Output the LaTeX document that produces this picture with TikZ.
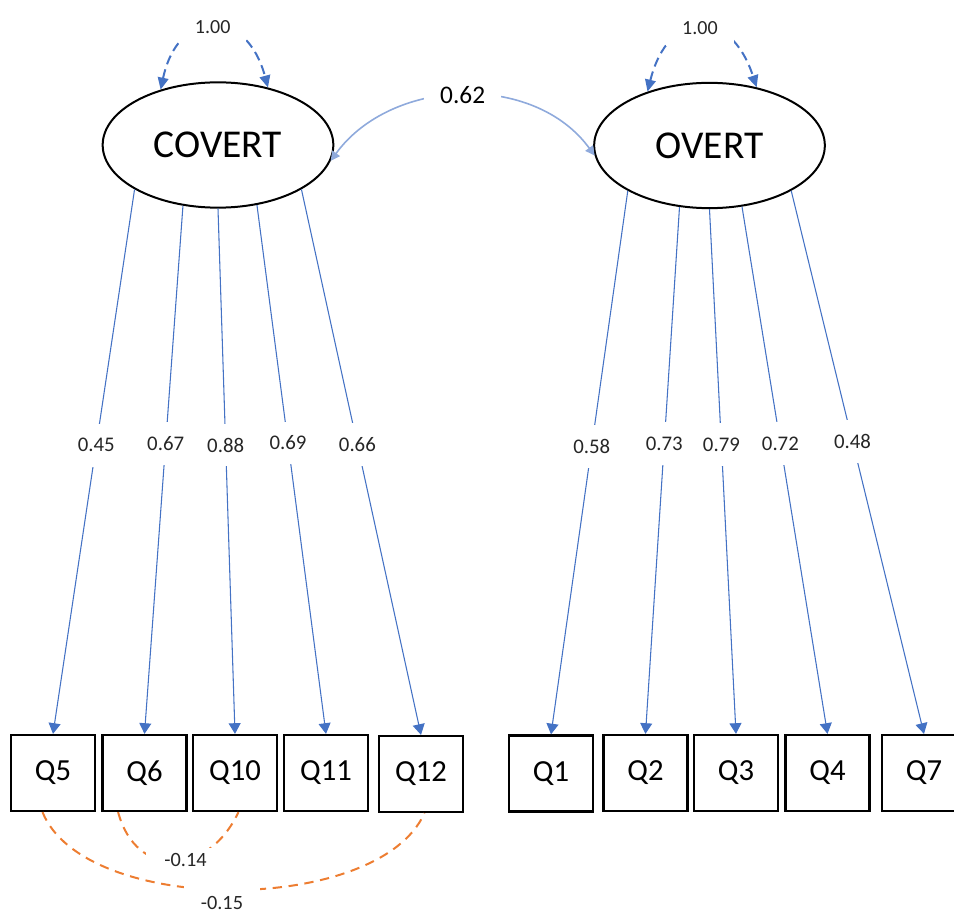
\documentclass[tikz,border=0pt]{standalone}
\usepackage{fontspec}
\setmainfont{Carlito}
\usetikzlibrary{arrows.meta, shapes.geometric}
\definecolor{ldblue}{HTML}{4472C4}
\definecolor{cvblue}{HTML}{8FAADC}
\definecolor{errorange}{HTML}{ED7D31}
\definecolor{txtgray}{HTML}{262626}

\begin{document}
\begin{tikzpicture}[x=.75pt, y=.75pt,
	latent/.style={draw, ellipse, line width=1.5pt, minimum width=173pt, minimum height=94pt, inner sep=0pt, font=\fontsize{29.6}{32}\selectfont},
	item/.style={draw, rectangle, line width=1.7pt, minimum width=63pt, minimum height=57pt, inner sep=0pt, font=\fontsize{23}{26}\selectfont},
	loading/.style={ldblue, line width=.8pt, -{Triangle[width=9pt,length=8pt]}},
	lab/.style={fill=white, text=txtgray, inner xsep=2pt, minimum height=32pt, font=\fontsize{15.6}{18}\selectfont},
	variance/.style={ldblue, line width=1.5pt, dash pattern=on 7pt off 4pt, {Triangle[width=8pt,length=9pt]}-{Triangle[width=8pt,length=9pt]}, looseness=2},
	errcov/.style={errorange, line width=1.5pt, dash pattern=on 7pt off 5pt},
	]
	\useasboundingbox (0,0) rectangle (954,-913);
	
	\begin{scope}
	\node[latent] (covert) at (218,-145)   {COVERT};
	\node[latent] (overt) at (709.5,-145.5) {OVERT};
	\end{scope}
	
	\begin{scope}
	\node[item] (q5) at (53,-773)    {Q5};
	\node[item] (q6) at (144.5,-773) {Q6};
	\node[item] (q10) at (235,-773)  {Q10};
	\node[item] (q11) at (326,-773)  {Q11};
	\node[item] (q12) at (421,-774)  {Q12};
	\node[item] (q1) at (551,-773.5) {Q1};
	\node[item] (q2) at (645.5,-773) {Q2};
	\node[item] (q3) at (736,-773)   {Q3};
	\node[item] (q4) at (827.5,-773) {Q4};
	\node[item] (q7) at (924,-773)   {Q7};
	\end{scope}
	
	% factor variances and covariance
	\draw[variance] (covert.136) to[out=78, in=105] node[fill=white, text=txtgray, inner xsep=12pt, inner ysep=9pt, font=\fontsize{15}{18}\selectfont] {1.00} (covert.49);
	\draw[variance] (overt.139) to[out=76, in=108] node[fill=white, text=txtgray, inner xsep=12pt, inner ysep=9pt, font=\fontsize{15}{18}\selectfont] {1.00} (overt.51);
	\draw[cvblue, line width=1.2pt, {Triangle[width=7pt,length=7pt]}-{Triangle[width=7pt,length=7pt]}] (covert.352) to[out=54, in=126] node[fill=white, text=black, inner xsep=12pt, inner ysep=2pt, font=\fontsize{19}{22}\selectfont] {0.62} (overt.185);
	
	\begin{scope}[loading]
	\draw (covert.208) -- (q5.north)  node[lab, pos=.47]  {0.45};
	\draw (covert.240) -- (q6.north)  node[lab, pos=.45]  {0.67};
	\draw (covert.270) -- (q10.north) node[lab, pos=.45]  {0.88};
	\draw (covert.303) -- (q11.north) node[lab, pos=.45]  {0.69};
	\draw (covert.332) -- (q12.north) node[lab, pos=.468] {0.66};
	\draw (overt.209) -- (q1.north)   node[lab, pos=.47]  {0.58};
	\draw (overt.244) -- (q2.north)   node[lab, pos=.449] {0.73};
	\draw (overt.270) -- (q3.north)   node[lab, pos=.449] {0.79};
	\draw (overt.298) -- (q4.north)   node[lab, pos=.449] {0.72};
	\draw (overt.331) -- (q7.north)   node[lab, pos=.462] {0.48};
	\end{scope}
	
	% residual covariances
	\begin{scope}[errcov]
	\draw (q6.236) to[out=-75, in=-115, looseness=1.5] node[pos=.58, fill=white, text=txtgray, inner xsep=14pt, inner ysep=4pt, font=\fontsize{15.2}{18}\selectfont] {-0.14} (q10.275);
	\draw (q5.255) to[out=-68, in=-114, looseness=.75] node[pos=.48, yshift=-10pt, fill=white, text=txtgray, inner xsep=13pt, inner ysep=8pt, font=\fontsize{15.2}{18}\selectfont] {-0.15} (q12.275);
	\end{scope}
	\end{tikzpicture}
\end{document}
